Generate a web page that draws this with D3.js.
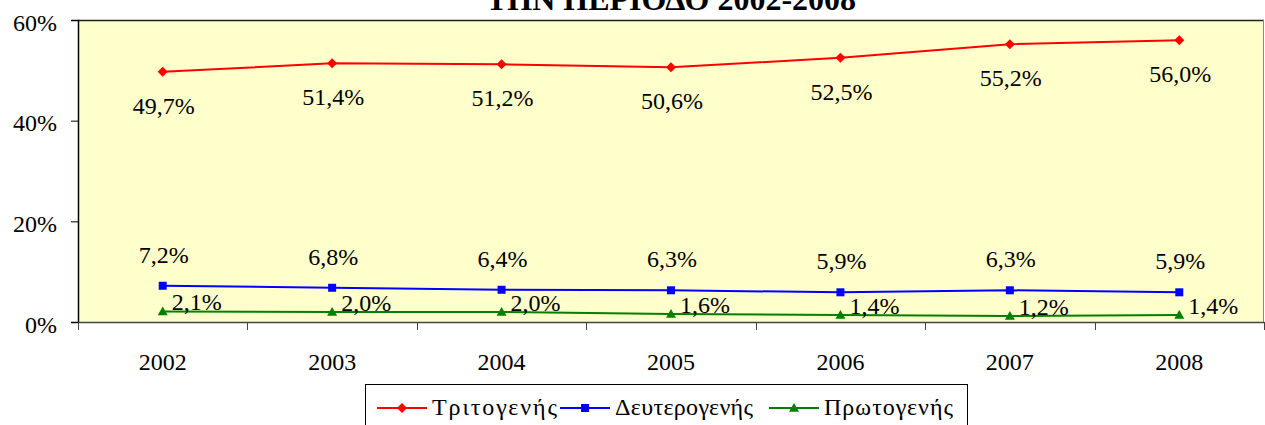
<!DOCTYPE html>
<html>
<head>
<meta charset="utf-8">
<script src="https://cdn.jsdelivr.net/npm/d3@7"></script>
<style>
  body { margin: 0; background: #fff; }
  svg text { font-family: "Liberation Serif", "Times New Roman", serif; fill: #000; }
</style>
</head>
<body>
<div id="chart"></div>
<script>
// Chart data
const years = ['2002', '2003', '2004', '2005', '2006', '2007', '2008'];
const tertiary = [49.7, 51.4, 51.2, 50.6, 52.5, 55.2, 56.0];
const secondary = [7.2, 6.8, 6.4, 6.3, 5.9, 6.3, 5.9];
const primary = [2.1, 2.0, 2.0, 1.6, 1.4, 1.2, 1.4];
const yTicks = [0, 20, 40, 60];

const seriesList = [
    { name: 'Τριτογενής', values: tertiary, color: '#ff0000', marker: 'diamond', label: 'below' },
    { name: 'Δευτερογενής', values: secondary, color: '#0000ff', marker: 'square', label: 'above' },
    { name: 'Πρωτογενής', values: primary, color: '#008000', marker: 'triangle', label: 'right' }
];

const width = 1265, height = 425;
const plot = { left: 78, top: 20, right: 1264, bottom: 322 };

const svg = d3.select('#chart')
    .append('svg')
    .attr('width', width)
    .attr('height', height);

const x = d3.scaleBand()
    .domain(years)
    .range([plot.left, plot.right]);

const y = d3.scaleLinear()
    .domain([0, 60])
    .range([plot.bottom, plot.top]);

// Title (cut off at the top in the original)
svg.append('text')
    .attr('x', 671)
    .attr('y', 10)
    .attr('text-anchor', 'middle')
    .style('font-size', '32px')
    .style('font-weight', 'bold')
    .text('ΤΗΝ ΠΕΡΙΟΔΟ 2002-2008');

// Plot background
svg.append('rect')
    .attr('x', plot.left)
    .attr('y', plot.top)
    .attr('width', plot.right - plot.left)
    .attr('height', plot.bottom - plot.top)
    .attr('fill', '#ffffcc')
    .attr('stroke', 'none');

// Borders
svg.append('line')
    .attr('x1', plot.left).attr('x2', plot.right)
    .attr('y1', plot.top + 0.5).attr('y2', plot.top + 0.5)
    .attr('stroke', '#222').attr('stroke-width', 1.5);
svg.append('line')
    .attr('x1', plot.right - 0.5).attr('x2', plot.right - 0.5)
    .attr('y1', plot.top).attr('y2', plot.bottom)
    .attr('stroke', '#888').attr('stroke-width', 1);

// Y axis
const yAxis = svg.append('g')
    .attr('transform', `translate(${plot.left},0)`)
    .call(d3.axisLeft(y).tickValues(yTicks).tickSize(7).tickPadding(14).tickFormat(d => d + '%'));
yAxis.select('.domain').attr('stroke', '#000').attr('stroke-width', 1.5);
yAxis.selectAll('.tick line').attr('stroke', '#000');
yAxis.selectAll('.tick text').style('font-size', '24px').attr('dy', '0.42em');

// X axis: ticks on band boundaries
const xAxis = svg.append('g')
    .attr('transform', `translate(0,${plot.bottom})`)
    .call(d3.axisBottom(x).tickSize(0).tickPadding(31));
xAxis.select('.domain').attr('stroke', '#444').attr('stroke-width', 1.5);
xAxis.selectAll('.tick text').style('font-size', '24px');

const boundaries = years.map(d => x(d)).concat([x.range()[1]]);
xAxis.selectAll('.boundary')
    .data(boundaries)
    .enter()
    .append('line')
    .attr('class', 'boundary')
    .attr('x1', d => Math.round(d) + 0.5)
    .attr('x2', d => Math.round(d) + 0.5)
    .attr('y1', 0)
    .attr('y2', 8)
    .attr('stroke', '#444');

const cx = d => x(d) + x.bandwidth() / 2;

// Marker path builder
function markerPath(type, s) {
    if (type === 'diamond') return `M0,${-s}L${s},0L0,${s}L${-s},0Z`;
    if (type === 'square') return `M${-s * 0.8},${-s * 0.8}H${s * 0.8}V${s * 0.8}H${-s * 0.8}Z`;
    return `M0,${-s}L${s},${s * 0.75}L${-s},${s * 0.75}Z`;
}

const line = d3.line()
    .x((d, i) => cx(years[i]))
    .y(d => y(d));

seriesList.forEach(series => {
    const g = svg.append('g').attr('class', 'series');

    g.append('path')
        .datum(series.values)
        .attr('d', line)
        .attr('fill', 'none')
        .attr('stroke', series.color)
        .attr('stroke-width', 2);

    g.selectAll('.marker')
        .data(series.values)
        .enter()
        .append('path')
        .attr('class', 'marker')
        .attr('transform', (d, i) => `translate(${cx(years[i])},${y(d)})`)
        .attr('d', markerPath(series.marker, 5))
        .attr('fill', series.color);

    g.selectAll('.value-label')
        .data(series.values)
        .enter()
        .append('text')
        .attr('class', 'value-label')
        .attr('x', (d, i) => series.label === 'right' ? cx(years[i]) + 9 : cx(years[i]) + 1)
        .attr('y', d => {
            if (series.label === 'below') return y(d) + 42;
            if (series.label === 'above') return y(d) - 23;
            return y(d) - 1;
        })
        .attr('text-anchor', series.label === 'right' ? 'start' : 'middle')
        .style('font-size', '24px')
        .text(d => d.toFixed(1).replace('.', ',') + '%');
});

// Legend
const legend = svg.append('g').attr('class', 'legend');
legend.append('rect')
    .attr('x', 365.5)
    .attr('y', 384.5)
    .attr('width', 602)
    .attr('height', 50)
    .attr('fill', '#fff')
    .attr('stroke', '#000');

const legendX = [377, 560, 769];
const legendTextWidth = [125, 138, 129];
seriesList.forEach((series, i) => {
    const lg = legend.append('g').attr('transform', `translate(${legendX[i]},408)`);
    lg.append('line')
        .attr('x1', 0).attr('x2', 50)
        .attr('y1', 0).attr('y2', 0)
        .attr('stroke', series.color)
        .attr('stroke-width', 2);
    lg.append('path')
        .attr('transform', 'translate(25,0)')
        .attr('d', markerPath(series.marker, 5))
        .attr('fill', series.color);
    lg.append('text')
        .attr('x', 55)
        .attr('y', 7)
        .attr('textLength', legendTextWidth[i])
        .attr('lengthAdjust', 'spacing')
        .style('font-size', '24px')
        .text(series.name);
});
</script>
</body>
</html>
